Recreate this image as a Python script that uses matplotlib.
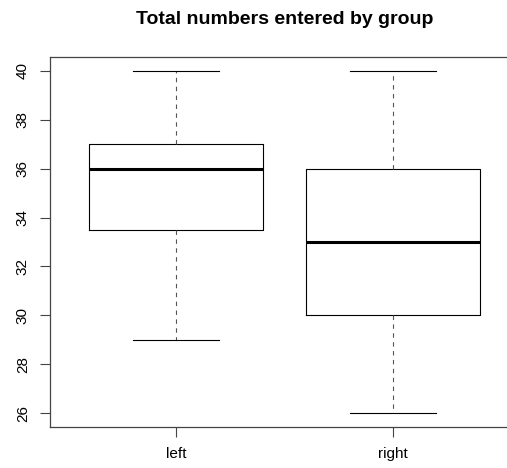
import matplotlib
matplotlib.use("Agg")
import matplotlib.pyplot as plt

plt.rcParams['font.family'] = ['Liberation Sans', 'DejaVu Sans']

groups = ["left", "right"]
mins = [29, 26]
q1s = [33.5, 30]
medians = [36, 33]
q3s = [37, 36]
maxs = [40, 40]
yticks = [26, 28, 30, 32, 34, 36, 38, 40]

stats = []
for g, lo, a, m, b, hi in zip(groups, mins, q1s, medians, q3s, maxs):
    stats.append(dict(label=g, whislo=lo, q1=a, med=m, q3=b, whishi=hi, fliers=[]))

fig = plt.figure(figsize=(5.07, 4.68), dpi=100)
ax = fig.add_axes([50/507, 1-427/468, 469/507, 370/468])
ax.bxp(stats, positions=[1, 2], widths=0.8, showfliers=False,
       boxprops=dict(color="black", linewidth=0.8),
       medianprops=dict(color="black", linewidth=2.2, solid_capstyle="butt"),
       whiskerprops=dict(color="#555555", linewidth=0.8, linestyle=(0, (4, 4))),
       capprops=dict(color="black", linewidth=0.8), capwidths=0.4)

ax.set_xlim(0.42, 2.58)
ax.set_ylim(25.44, 40.56)
ax.set_yticks(yticks)
ax.set_yticklabels([str(t) for t in yticks], rotation=90, va="center")
ax.set_xticks([1, 2])
ax.set_xticklabels(groups)
ax.tick_params(axis="both", length=7, width=0.8, color="#444444", labelsize=11, pad=7.5)
for s in ax.spines.values():
    s.set_color("#444444")
    s.set_linewidth(0.9)
ax.spines["right"].set_visible(False)
fig.text(284.5/507, 1-20/468, "Total numbers entered by group", ha="center", va="center",
         fontsize=14, fontweight="bold")
fig.savefig("out.png", dpi=100)
